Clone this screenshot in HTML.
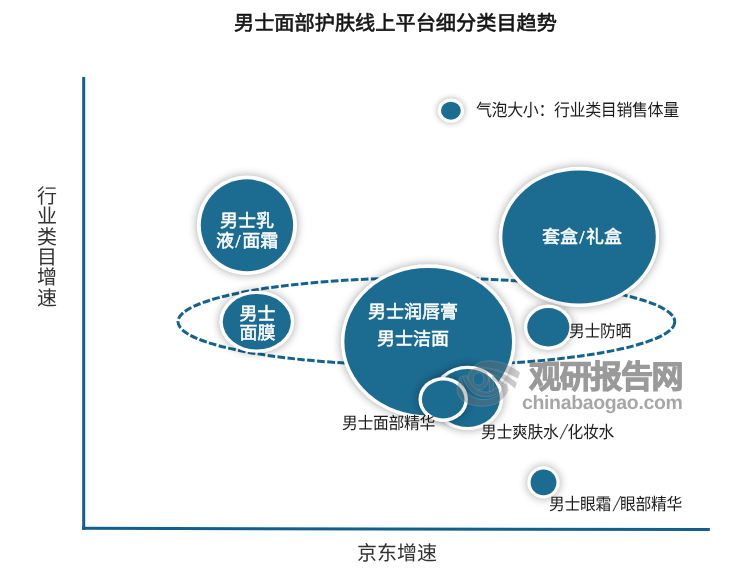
<!DOCTYPE html>
<html lang="zh-CN">
<head>
<meta charset="utf-8">
<title>男士面部护肤线上平台细分类目趋势</title>
<style>
html,body{margin:0;padding:0;background:#fff;}
body{text-rendering:geometricPrecision;width:750px;height:570px;position:relative;overflow:hidden;font-family:"Liberation Serif",serif;color:#000;}
.abs{position:absolute;}
.title,.wt,.lab,.ax,div.wm{will-change:transform;}
.title{position:absolute;left:0;width:750px;top:9.5px;text-align:center;font-family:"Liberation Serif",serif;font-weight:normal;-webkit-text-stroke:0.6px #161616;font-size:20.2px;line-height:28px;color:#161616;padding-left:41px;box-sizing:border-box;white-space:nowrap;}
.wt{position:absolute;color:#fff;font-family:"Liberation Serif",serif;font-weight:normal;-webkit-text-stroke:0.5px #fff;text-align:center;white-space:nowrap;font-size:18px;}
.lab{position:absolute;font-family:"Liberation Sans",sans-serif;font-size:15.8px;letter-spacing:-0.3px;line-height:20px;color:#1c1c1c;white-space:nowrap;transform:scaleY(1.075);transform-origin:0 50%;}
.wt i{font-style:normal;margin:0 1.6px;}
.lab i{font-style:normal;display:inline-block;margin:0 2.3px 0 2.6px;transform:skewX(-18deg) scaleY(1.22);color:#444;}
.ax{position:absolute;font-family:"Liberation Serif",serif;font-size:20px;color:#333;white-space:nowrap;}
svg{position:absolute;left:0;top:0;}
</style>
</head>
<body>
<div class="title">男士面部护肤线上平台细分类目趋势</div>

<!-- axes, dashed ellipse, bubbles -->
<svg width="750" height="570" viewBox="0 0 750 570">
  <defs>
    <filter id="sh" x="-30%" y="-30%" width="160%" height="160%" color-interpolation-filters="sRGB">
      <feGaussianBlur in="SourceAlpha" stdDeviation="4.6"/>
      <feComponentTransfer><feFuncA type="linear" slope="0.35"/></feComponentTransfer>
      <feMerge><feMergeNode/><feMergeNode in="SourceGraphic"/></feMerge>
    </filter>
    <filter id="shs" x="-60%" y="-60%" width="220%" height="220%" color-interpolation-filters="sRGB">
      <feGaussianBlur in="SourceAlpha" stdDeviation="3.2"/>
      <feComponentTransfer><feFuncA type="linear" slope="0.34"/></feComponentTransfer>
      <feMerge><feMergeNode/><feMergeNode in="SourceGraphic"/></feMerge>
    </filter>
  </defs>
  <rect x="82.2" y="77" width="3" height="453" fill="#11608c"/>
  <line x1="82.2" y1="528.3" x2="709.8" y2="529.6" stroke="#11608c" stroke-width="3"/>
  <ellipse cx="426.4" cy="321.7" rx="248.4" ry="43.8" fill="none" stroke="#14638e" stroke-width="3" stroke-dasharray="7.6 2.4"/>
  <ellipse cx="450.9" cy="110.7" rx="13.25" ry="12.15" fill="#fff" filter="url(#shs)"/>
  <ellipse cx="450.9" cy="110.7" rx="9.9" ry="8.95" fill="#1c6b91"/>
  <ellipse cx="246.95" cy="225.3" rx="50.05" ry="49.7" fill="#fff" filter="url(#sh)"/>
  <ellipse cx="246.95" cy="225.3" rx="46.15" ry="45.95" fill="#1c6b91"/>
  <ellipse cx="579.05" cy="237" rx="80.2" ry="70.15" fill="#fff" filter="url(#sh)"/>
  <ellipse cx="579.05" cy="237" rx="76.75" ry="66.6" fill="#1c6b91"/>
  <ellipse cx="256.8" cy="321.75" rx="37.45" ry="31.1" fill="#fff" filter="url(#sh)"/>
  <ellipse cx="256.8" cy="321.75" rx="34.05" ry="27.75" fill="#1c6b91"/>
  <ellipse cx="428.2" cy="341.6" rx="87.3" ry="77.3" fill="#fff" filter="url(#sh)"/>
  <ellipse cx="428.2" cy="341.6" rx="83.85" ry="73.7" fill="#1c6b91"/>
  <ellipse cx="548.3" cy="327.3" rx="24.4" ry="22.8" fill="#fff" filter="url(#sh)"/>
  <ellipse cx="548.3" cy="327.3" rx="21.05" ry="19.25" fill="#1c6b91"/>
  <ellipse cx="467.5" cy="398" rx="35.9" ry="32.3" fill="#fff" filter="url(#sh)"/>
  <ellipse cx="467.5" cy="398" rx="32.4" ry="28.95" fill="#1c6b91"/>
  <ellipse cx="443.2" cy="399.45" rx="24.75" ry="22.45" fill="#fff" filter="url(#sh)"/>
  <ellipse cx="443.2" cy="399.45" rx="21.3" ry="18.95" fill="#1c6b91"/>
  <ellipse cx="543.5" cy="482.4" rx="16.2" ry="16.2" fill="#fff" filter="url(#sh)"/>
  <ellipse cx="543.5" cy="482.4" rx="12.9" ry="12.9" fill="#1c6b91"/>
</svg>

<div class="ax" style="left:37px;top:186.8px;width:20px;line-height:20.35px;text-align:center;white-space:normal;word-break:break-all;">行业类目增速</div>
<div class="ax" style="left:356.7px;top:542px;line-height:24px;">京东增速</div>

<!-- legend -->
<div class="lab" style="left:476px;top:102.2px;font-size:16px;letter-spacing:-0.4px;">气泡大小：行业类目销售体量</div>

<!-- bubble captions and data labels -->
<div class="wt" style="left:196.9px;top:211px;width:100.1px;line-height:20px;">男士乳<br>液<i>/</i>面霜</div>

<div class="wt" style="left:501.8px;top:226.3px;width:160px;line-height:22px;">套盒<i>/</i>礼盒</div>

<div class="wt" style="left:219.6px;top:305.2px;width:74.9px;line-height:19.2px;">男士<br>面膜</div>

<div class="wt" style="left:366.5px;top:298.5px;width:92px;line-height:27px;">男士润唇膏<br>男士洁面</div>

<div class="lab" style="left:568.9px;top:322.8px;">男士防晒</div>

<div class="lab" style="left:342px;top:415.3px;">男士面部精华</div>
<div class="lab" style="left:481px;top:423.7px;">男士爽肤水<i>/</i>化妆水</div>

<div class="lab" style="left:549px;top:495.8px;">男士眼霜<i>/</i>眼部精华</div>

<!-- watermark -->
<svg class="wm" width="750" height="570" viewBox="0 0 750 570" style="opacity:0.38">
  <g fill="#747474" stroke="#fff" stroke-opacity="0.55" stroke-width="0.7" stroke-linejoin="round">
    <!-- upper crescent U1 -->
    <path d="M474.6 366 C478 362.6 482 361.2 487 360.9 C494 360.5 501 361.8 507.8 365 C512.5 367.3 516.6 369.8 520.2 372.4 L518 378.8 C513.5 376.5 509 374.3 504.6 372.6 C499 370.5 493 368.6 487.4 367.8 C483 367.2 478.6 366.6 474.6 366 Z"/>
    <!-- second band U2 -->
    <path d="M482.5 368 C486.5 368.2 491 369 496 370.4 C500 371.6 503 373 505.5 374.6 C509.5 377 513.5 379.8 517.1 382.6 L515 389 C511 385.3 507 382 503 379.5 C499 377 495 374.8 491 373.4 C488 372.5 485 372.2 482.5 372.4 Z"/>
    <!-- third band U3 -->
    <path d="M492 374.6 C495.5 376 498.6 378 501.3 380.4 C504.6 383.3 507.4 386.6 509.2 390.4 L504.6 392.6 C503 389 501 386 498.4 383.6 C496.4 381.8 494.3 380.6 492 380 Z"/>
    <!-- central ring -->
    <path fill-rule="evenodd" d="M478.6 367.2 C484 367.2 488.6 372 488.6 378.6 C488.6 385.2 484 390 478.4 390 C472.6 390 467.9 385 467.9 378.4 C467.9 372 472.8 367.2 478.6 367.2 Z M478.5 372.8 C475.4 372.8 473.2 375.4 473.2 378.9 C473.2 382.4 475.5 385.1 478.5 385.1 C481.5 385.1 483.8 382.4 483.8 378.9 C483.8 375.4 481.6 372.8 478.5 372.8 Z"/>
    <!-- blade -->
    <path d="M489.4 377.5 L493.8 380.2 L493 394 L489.2 391.2 Z"/>
    <!-- lower big crescent L1 -->
    <path d="M460.6 376.4 C457 383 455.6 390.5 459 396.4 C463.5 403.6 473 406.6 484 406.2 C494.5 405.8 503 401.2 507 393.6 C508.6 390.4 508.4 386.6 506.4 383 L501.2 385 C502 388.6 501 392 498 394.8 C494 398.3 488 400 481.5 399.5 C474 398.8 468.4 395.4 465 389 C463 385 461.6 380.6 460.6 376.4 Z"/>
    <!-- inner lower band L2 -->
    <path d="M462.4 376 C464 381.6 466.6 386.6 470.4 390.4 C475 395 482 397.4 489 396.6 C494.6 396 498.6 393.2 500 389 L496 387 C494.6 389.8 492 391.6 488 392 C482.6 392.5 477.4 390.6 473.6 386.8 C470.6 383.8 468.4 380 467 375.8 Z"/>
  </g>
</svg>
<div class="abs wm" style="left:529.2px;top:355.3px;font-family:'Liberation Sans',sans-serif;font-weight:bold;font-size:32px;line-height:44px;letter-spacing:-1.35px;color:#7a7a7a;-webkit-text-stroke:1.1px #7a7a7a;opacity:0.76;white-space:nowrap;">观研报告网</div>
<div class="abs wm" style="left:521.6px;top:388px;font-family:'Liberation Sans',sans-serif;font-weight:bold;font-size:19.5px;line-height:30px;color:#7d7d7d;opacity:0.68;white-space:nowrap;letter-spacing:-0.35px;">chinabaogao.com</div>
</body>
</html>
